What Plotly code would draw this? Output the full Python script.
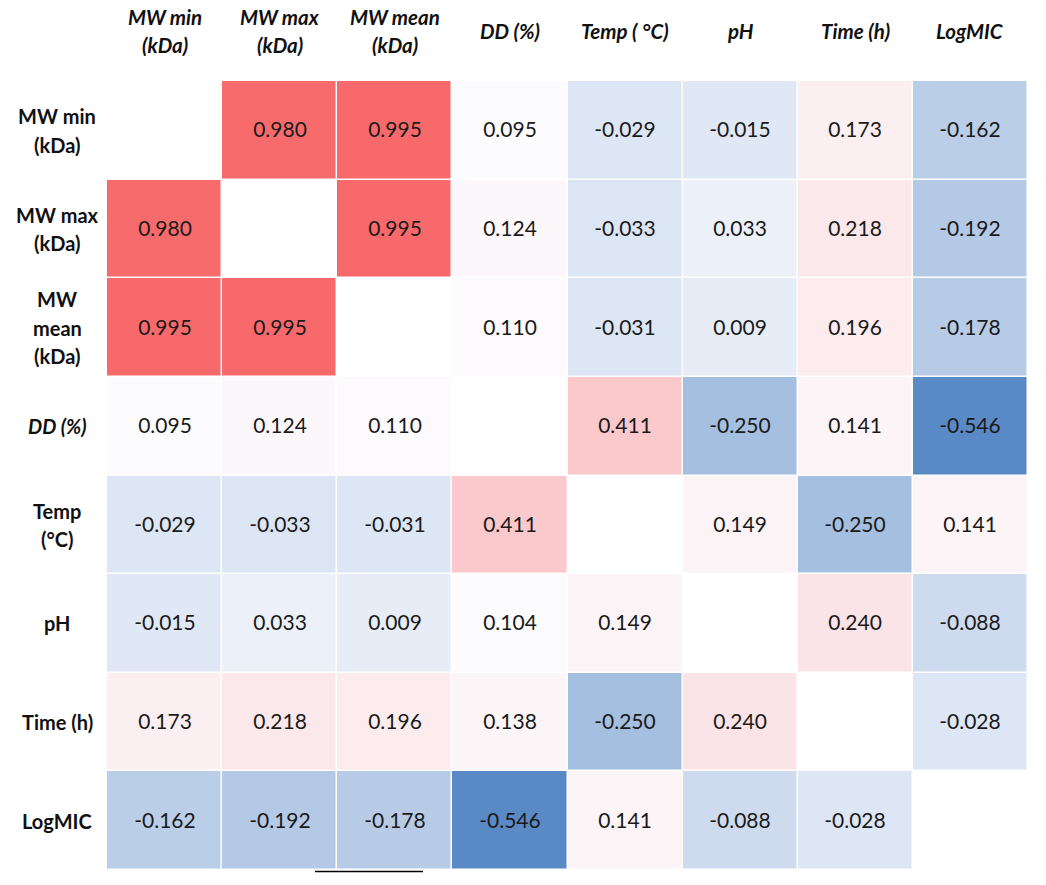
import numpy as np
import plotly.graph_objects as go

# ---- data ----
col_labels = ["MW min<br>(kDa)", "MW max<br>(kDa)", "MW mean<br>(kDa)", "DD (%)",
              "Temp ( °C)", "pH", "Time (h)", "LogMIC"]
row_labels = ["MW min<br>(kDa)", "MW max<br>(kDa)", "MW<br>mean<br>(kDa)", "DD (%)",
              "Temp<br>(°C)", "pH", "Time (h)", "LogMIC"]
row_italic = [False, False, False, True, False, False, False, False]
categories = ["MWmin", "MWmax", "MWmean", "DD", "Temp", "pH", "Time", "LogMIC"]

r_mwmin  = [None, 0.980, 0.995, 0.095, -0.029, -0.015, 0.173, -0.162]
r_mwmax  = [0.980, None, 0.995, 0.124, -0.033, 0.033, 0.218, -0.192]
r_mwmean = [0.995, 0.995, None, 0.110, -0.031, 0.009, 0.196, -0.178]
r_dd     = [0.095, 0.124, 0.110, None, 0.411, -0.250, 0.141, -0.546]
r_temp   = [-0.029, -0.033, -0.031, 0.411, None, 0.149, -0.250, 0.141]
r_ph     = [-0.015, 0.033, 0.009, 0.104, 0.149, None, 0.240, -0.088]
r_time   = [0.173, 0.218, 0.196, 0.138, -0.250, 0.240, None, -0.028]
r_logmic = [-0.162, -0.192, -0.178, -0.546, 0.141, -0.088, -0.028, None]

z = [r_mwmin, r_mwmax, r_mwmean, r_dd, r_temp, r_ph, r_time, r_logmic]

# ---- colour scale (Excel 3-colour: min blue, 50th percentile white, max red) ----
vals = np.array([v for row in z for v in row if v is not None], dtype=float)
zmin, zmax, zmid = vals.min(), vals.max(), np.median(vals)
midfrac = (zmid - zmin) / (zmax - zmin)
colorscale = [[0.0, "#5A8AC6"], [midfrac, "#FCFCFF"], [1.0, "#F8696B"]]

text = [["" if v is None else f"{v:.3f}" for v in row] for row in z]

FONT = "Lato, 'Open Sans', sans-serif"

fig = go.Figure(go.Heatmap(
    z=z, x=categories, y=categories,
    colorscale=colorscale, zmin=zmin, zmax=zmax, showscale=False,
    text=text, texttemplate="%{text}",
    textfont=dict(family=FONT, size=21, color="#1a1a1a"),
    xgap=1.5, ygap=1.5, hoverongaps=False,
))

annotations = []
# column headers (bold italic)
for cat, lab in zip(categories, col_labels):
    lines = lab.split("<br>")
    n = len(lines)
    for i, ln in enumerate(lines):
        off = (i - (n - 1) / 2) * 28
        annotations.append(dict(
            x=cat, xref="x", y=1, yref="paper", yanchor="middle",
            yshift=81 - 31 - off, text=f"<b><i>{ln}</i></b>", showarrow=False,
            font=dict(family=FONT, size=20.5, color="#111111")))
# row headers (bold)
for cat, lab, it in zip(categories, row_labels, row_italic):
    lines = lab.split("<br>")
    n = len(lines)
    for i, ln in enumerate(lines):
        off = (i - (n - 1) / 2) * 28.5
        t = f"<b><i>{ln}</i></b>" if it else f"<b>{ln}</b>"
        annotations.append(dict(
            x=0, xref="paper", xanchor="center", xshift=-50,
            y=cat, yref="y", yanchor="middle", yshift=-off,
            text=t, showarrow=False,
            font=dict(family=FONT, size=20, color="#111111")))

fig.update_layout(
    width=1046, height=885,
    margin=dict(l=107, r=18, t=81, b=15),
    paper_bgcolor="white", plot_bgcolor="white",
    xaxis=dict(showticklabels=False, showgrid=False, zeroline=False, ticks=""),
    yaxis=dict(showticklabels=False, showgrid=False, zeroline=False, ticks="",
               autorange="reversed"),
    annotations=annotations,
    shapes=[dict(type="line", xref="paper", yref="paper",
                 x0=(315 - 107) / 921, x1=(423 - 107) / 921, y0=-0.002, y1=-0.002,
                 line=dict(color="black", width=1.5))],
)

fig.write_html("out.html")
